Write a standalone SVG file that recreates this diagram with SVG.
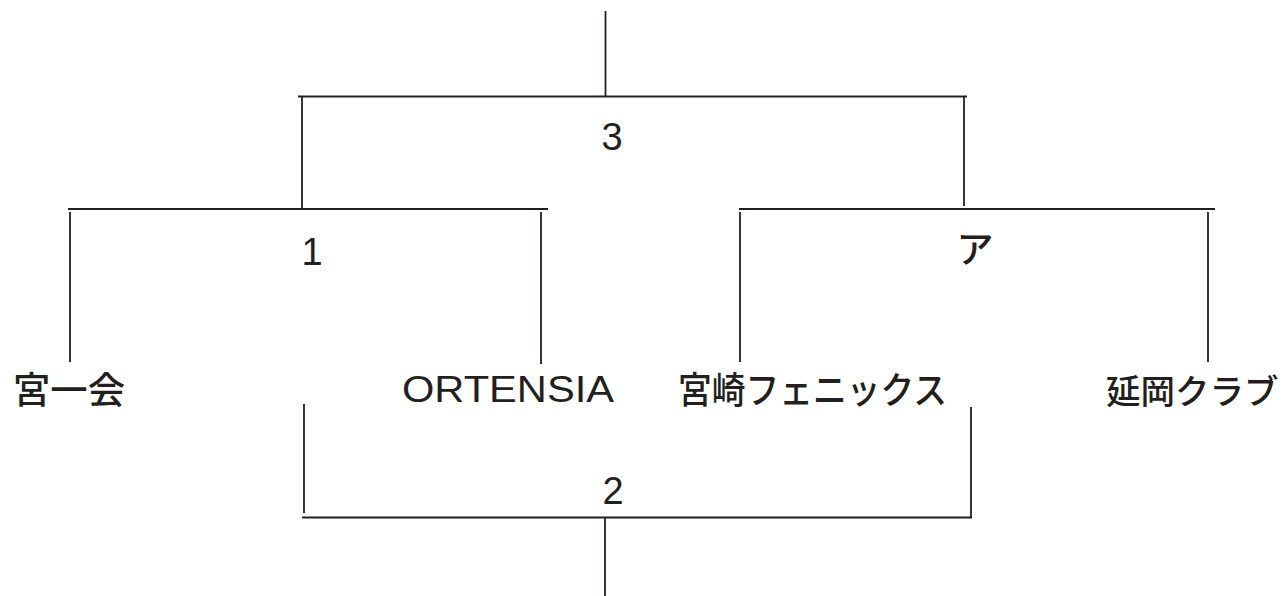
<svg xmlns="http://www.w3.org/2000/svg" width="1286" height="596" viewBox="0 0 1286 596">
<style>
.c line{stroke:#231f20;stroke-linecap:butt}
.h{stroke-width:2.2}
.v{stroke-width:1.8}
.lbl{font-family:"Liberation Sans","Noto Sans CJK JP",sans-serif;font-size:36px;fill:#231f20}
.jp{font-family:"Noto Sans CJK JP",sans-serif;font-size:37px;font-weight:500;fill:#231f20}
.num{font-family:"Liberation Sans","Noto Sans CJK JP",sans-serif;font-size:38px;fill:#231f20;text-anchor:middle}
</style>
<rect width="1286" height="596" fill="#ffffff"/>
<g id="connectors" class="c">
<line class="v" x1="605.5" y1="11" x2="605.5" y2="96"/>
<line class="h" x1="298" y1="96.5" x2="967" y2="96.5"/>
<line class="v" x1="302" y1="97" x2="302" y2="208"/>
<line class="v" x1="964" y1="97" x2="964" y2="206"/>
<line class="h" x1="68" y1="209" x2="548" y2="209"/>
<line class="v" x1="70" y1="212" x2="70" y2="362"/>
<line class="v" x1="541" y1="212" x2="541" y2="364"/>
<line class="h" x1="739" y1="209" x2="1215" y2="209"/>
<line class="v" x1="740" y1="212" x2="740" y2="362"/>
<line class="v" x1="1208" y1="212" x2="1208" y2="362"/>
<line class="v" x1="304" y1="404" x2="304" y2="513"/>
<line class="v" x1="971" y1="407" x2="971" y2="518"/>
<line class="h" x1="302" y1="517.5" x2="972" y2="517.5"/>
<line class="v" x1="605" y1="518" x2="605" y2="596"/>
</g>
<g id="match3"><text class="num" x="612" y="150">3</text></g>
<g id="match1"><text class="num" x="312" y="265">1</text></g>
<g id="matchA"><text class="jp" x="975" y="263" text-anchor="middle">ア</text></g>
<g id="match2"><text class="num" x="613" y="504">2</text></g>
<g id="team-miyaichi"><text class="jp" x="13" y="404" textLength="112" lengthAdjust="spacingAndGlyphs">宮一会</text></g>
<g id="team-ortensia"><text class="lbl" x="402" y="402" textLength="212" lengthAdjust="spacingAndGlyphs">ORTENSIA</text></g>
<g id="team-phoenix"><text class="jp" x="678" y="404" textLength="269" lengthAdjust="spacingAndGlyphs">宮崎フェニックス</text></g>
<g id="team-nobeoka"><text class="jp" x="1106" y="404" style="font-size:34.5px">延岡クラブ</text></g>
</svg>
